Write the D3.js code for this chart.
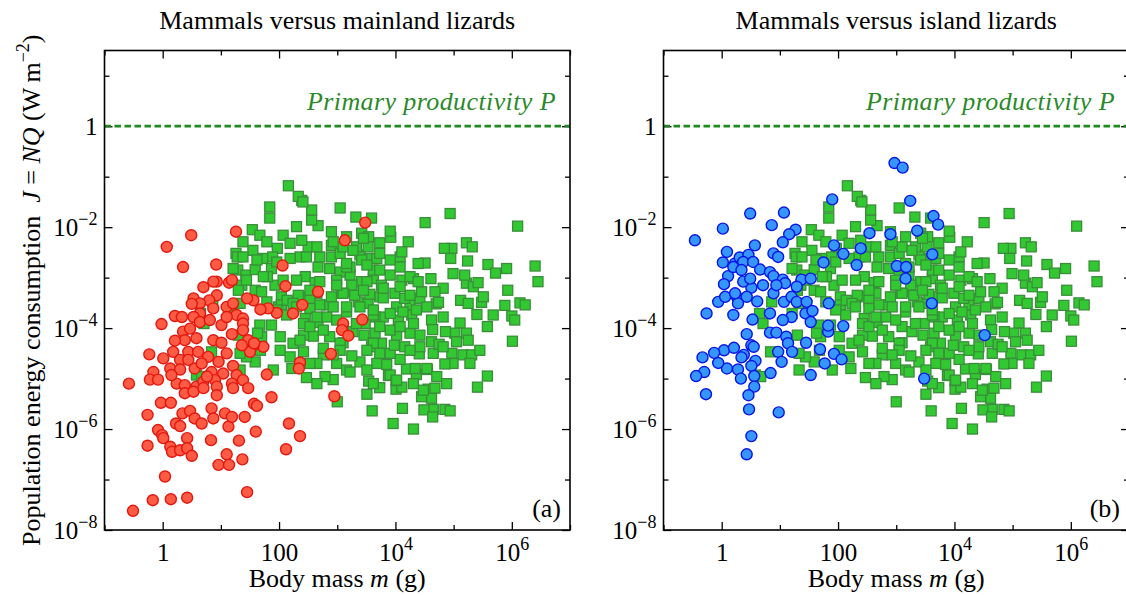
<!DOCTYPE html>
<html>
<head>
<meta charset="utf-8">
<script src="https://cdn.jsdelivr.net/npm/d3@7"></script>
<style>
body { margin: 0; background: #fff; }
svg text { font-family: "Liberation Serif", "Times New Roman", serif; }
</style>
</head>
<body>
<svg id="chart" width="1126" height="595"></svg>
<script>
// values, stored as [log10 body mass (g), log10 J (W m^-2)]
const mammals = [
  [3.05,-1.62],[3.32,-1.80],[3.59,-1.82],[4.51,-1.91],[4.94,-1.73],[6.10,-1.98],[6.40,-2.77],[6.45,-3.08],[5.59,-2.74],[5.91,-2.82],
  [5.72,-2.91],[5.93,-3.25],[6.14,-3.50],[6.23,-3.54],[5.88,-3.55],[6.00,-3.76],[6.05,-3.84],[5.68,-3.74],[5.58,-3.97],[6.01,-4.26],
  [5.58,-4.95],[5.41,-5.17],[5.22,-2.31],[5.32,-2.39],[4.97,-2.42],[4.84,-2.42],[4.95,-2.62],[5.24,-2.67],[4.99,-2.92],[4.51,-2.71],
  [4.39,-2.72],[4.61,-3.02],[5.12,-3.45],[5.22,-3.11],[5.34,-3.18],[5.48,-3.49],[5.40,-3.73],[5.11,-3.90],[5.22,-4.10],[5.25,-4.24],
  [5.02,-4.10],[4.86,-4.07],[4.97,-4.50],[5.16,-4.53],[5.31,-4.53],[5.28,-4.70],[4.99,-4.70],[4.85,-4.71],[4.65,-4.50],[4.62,-4.27],
  [4.42,-4.14],[4.62,-3.84],[4.82,-3.78],[4.70,-3.52],[4.82,-3.21],[4.74,-3.49],[4.41,-4.51],[4.55,-4.82],[4.56,-5.21],[4.62,-5.39],
  [4.65,-5.61],[4.85,-5.61],[4.94,-5.64],[4.49,-5.62],[4.31,-6.00],[3.96,-5.89],[4.12,-5.59],[3.60,-5.64],[3.51,-5.31],[3.73,-5.18],
  [3.54,-5.05],[4.01,-5.21],[4.11,-5.17],[3.88,-4.94],[4.36,-4.92],[4.19,-4.81],[4.34,-4.80],[4.54,-4.80],[3.68,-4.70],[3.85,-4.72],
  [4.08,-4.62],[3.91,-4.50],[3.39,-4.67],[3.25,-4.55],[3.59,-4.37],[3.76,-4.30],[4.16,-4.37],[3.98,-4.34],[4.25,-4.10],[4.02,-4.14],
  [3.65,-4.10],[3.46,-4.14],[3.10,-4.29],[2.99,-4.70],[2.93,-5.02],[2.79,-4.96],[2.65,-5.10],[2.47,-4.98],[3.00,-5.46],[2.76,-4.53],
  [2.42,-4.47],[2.59,-4.16],[2.42,-4.14],[2.87,-4.17],[2.67,-3.89],[2.45,-3.81],[2.82,-3.78],[2.82,-3.54],[3.16,-3.68],[3.36,-3.48],
  [3.53,-3.51],[3.73,-3.38],[4.02,-3.58],[4.25,-3.54],[4.42,-3.41],[4.28,-3.74],[4.05,-3.84],[3.79,-3.78],[3.65,-3.78],[3.48,-3.91],
  [3.91,-4.04],[3.08,-3.31],[2.90,-3.38],[2.65,-3.31],[2.45,-3.38],[3.25,-3.28],[3.56,-3.33],[3.79,-3.40],[3.99,-3.31],[4.16,-3.41],
  [4.31,-3.02],[4.11,-3.05],[3.91,-2.95],[3.62,-3.02],[3.42,-3.08],[3.22,-2.95],[3.05,-2.89],[2.87,-2.82],[2.67,-2.79],[2.45,-2.98],
  [2.50,-2.39],[2.70,-2.59],[2.90,-2.59],[2.90,-2.36],[3.22,-2.79],[3.39,-2.55],[3.56,-2.62],[3.73,-2.31],[3.92,-2.20],[3.91,-2.08],
  [4.08,-2.59],[4.22,-2.29],[3.42,-2.12],[3.54,-2.19],[2.90,-2.09],[2.67,-1.97],[2.56,-1.86],[2.56,-1.66],[2.39,-1.47],[2.39,-2.26],
  [3.68,-2.62],[3.33,-2.39],[3.53,-2.39],
  [2.16,-1.18],[2.33,-1.39],[2.41,-1.50],[1.84,-1.60],[1.84,-1.82],[2.30,-1.99],[1.54,-2.05],[1.67,-2.16],[1.38,-2.29],[1.26,-2.52],
  [1.55,-2.46],[1.79,-2.29],[2.07,-2.16],[2.19,-2.32],[1.97,-2.42],[1.72,-2.62],[1.89,-2.59],[2.36,-2.59],[3.16,-2.79],[3.42,-2.65],
  [3.62,-2.85],[3.73,-2.52],[1.29,-2.85],[1.43,-2.95],[1.59,-2.84],[1.87,-2.82],[2.30,-3.05],[2.62,-3.10],[2.99,-3.05],[3.25,-3.15],
  [3.51,-3.08],[1.36,-3.15],[1.59,-3.25],[1.70,-3.28],[1.93,-3.15],[2.04,-3.38],[2.33,-3.35],[2.53,-3.45],[3.10,-3.31],[3.30,-3.35],
  [3.76,-3.15],[2.70,-3.54],[1.99,-3.58],[2.04,-3.54],[2.13,-3.74],[2.53,-3.61],[3.62,-3.74],[1.67,-3.94],[1.87,-3.94],[2.42,-3.91],
  [2.24,-4.30],[2.02,-4.44],[2.76,-4.40],[3.05,-4.30],[3.62,-4.30],[1.70,-4.17],[1.59,-4.67],[1.90,-4.83],[2.22,-4.80],[1.44,-4.57],
  [1.33,-4.50],[4.11,-2.49],[5.19,-2.95],[5.42,-3.10],[4.68,-3.28],[4.45,-3.28],[4.25,-3.35],[4.08,-3.18],[4.64,-4.03],[4.75,-4.32],
  [5.05,-4.27],[3.91,-4.93],[4.01,-5.04],[4.68,-5.19],[4.45,-5.36],[4.64,-5.76],
  [1.21,-2.82],[1.30,-3.25],[1.33,-3.51],[1.21,-3.71],[1.30,-4.14],[1.33,-4.83],[0.58,-4.93],[0.65,-3.71],[0.71,-3.91],[0.84,-4.47],
  [0.67,-4.96],[0.86,-3.48],[1.28,-2.59],[1.80,-2.98],[2.14,-3.45],[1.63,-4.10],[1.68,-4.44],
  [2.47,-2.59],[3.05,-2.52],[3.16,-2.72],[3.51,-2.75],[3.73,-2.85],[3.91,-2.65],[4.08,-2.79],[4.25,-2.98],[4.39,-3.08],[3.79,-3.21],
  [3.45,-3.25],[2.99,-3.15],[2.70,-3.08],[2.53,-3.25],[2.93,-3.58],[3.62,-3.64],[3.91,-3.71],[4.13,-3.68],[4.36,-3.64],[4.54,-3.58],
  [2.53,-3.97],[2.76,-4.04],[3.10,-3.97],[3.27,-4.07],[3.73,-3.97],[4.08,-3.97],[4.31,-3.91],[4.42,-4.37],[4.25,-4.44],[3.73,-4.50],
  [3.51,-4.44],[3.05,-4.44],[2.65,-4.70],[3.16,-4.83],[3.51,-4.83],[4.02,-5.03],[3.62,-5.10],[4.31,-5.10],[4.48,-5.23],
  [1.38,-2.59],[1.62,-2.65],[1.96,-2.69],[2.19,-2.62],[1.44,-3.05],[1.73,-2.98],[2.07,-3.05],[1.79,-3.48],[2.24,-3.51],[3.16,-3.58],
  [3.39,-3.58],[3.10,-2.39],[3.27,-2.46],[3.45,-2.22],[2.65,-2.39],[3.16,-2.19],[2.93,-2.29],
  [1.96,-3.64],[2.30,-3.58],[2.65,-3.78],[2.99,-3.84],[3.33,-3.91],[2.02,-4.17],[2.36,-4.24],[2.93,-4.53],[2.19,-4.57],[2.53,-4.70],
  [3.22,-4.87],[5.51,-3.38],[5.25,-3.51],[4.82,-4.37],[5.45,-4.44],[4.71,-4.96],[4.88,-5.10]
];

const mainlandLizards = [
  [3.48,-1.91],[3.13,-2.26],[1.26,-2.09],[0.49,-2.16],[0.07,-2.39],[0.35,-2.79],[0.92,-2.74],[2.06,-2.76],[2.11,-3.17],[2.67,-3.28],
  [2.40,-3.54],[2.24,-3.71],[1.96,-3.70],[1.81,-3.61],[1.68,-3.63],[1.56,-3.45],[1.45,-3.41],[3.43,-3.83],[3.10,-3.91],[3.08,-4.04],
  [3.19,-4.15],[2.89,-4.51],[2.36,-4.68],[2.34,-4.80],[1.79,-4.92],[1.73,-4.37],[1.56,-4.34],[1.50,-4.47],[1.14,-3.10],[1.19,-3.05],
  [0.93,-3.08],[0.87,-3.08],[0.70,-3.19],[0.53,-3.41],[0.93,-3.35],[0.80,-3.45],[0.64,-3.51],[0.50,-3.52],[0.87,-3.61],[1.10,-3.58],
  [1.21,-3.51],[1.27,-3.74],[1.38,-3.81],[0.64,-3.71],[0.53,-3.78],[0.21,-3.76],[0.33,-3.78],[-0.02,-3.92],[0.35,-4.07],[0.47,-4.01],
  [0.64,-3.88],[0.81,-3.84],[1.01,-3.94],[1.10,-3.78],[1.38,-3.91],[1.38,-4.04],[0.58,-4.20],[0.38,-4.24],[0.21,-4.25],[0.87,-4.24],
  [1.01,-4.29],[1.19,-4.12],[1.47,-4.24],[1.57,-4.30],[0.18,-4.47],[0.44,-4.47],[0.61,-4.47],[0.78,-4.57],[0.96,-4.67],[-0.23,-4.52],
  [0.01,-4.60],[0.30,-4.63],[0.13,-4.80],[-0.16,-4.87],[-0.22,-5.02],[-0.08,-5.02],[0.30,-4.82],[0.55,-4.80],[0.84,-4.87],[1.04,-4.90],
  [1.21,-4.75],[1.27,-4.93],[1.38,-5.03],[1.47,-5.19],[-0.58,-5.10],[0.24,-5.10],[0.38,-5.13],[0.58,-5.16],[0.70,-5.06],[0.90,-5.03],
  [0.93,-5.16],[1.19,-5.10],[1.87,-5.37],[2.95,-5.35],[-0.26,-5.72],[-0.03,-5.48],[0.14,-5.48],[-0.08,-6.02],[-0.01,-6.12],[0.01,-6.18],
  [0.13,-6.35],[0.16,-6.45],[0.30,-6.42],[0.42,-6.18],[0.42,-6.38],[0.50,-6.53],[-0.26,-6.33],[0.23,-5.89],[0.30,-5.94],[0.34,-5.69],
  [0.47,-5.64],[0.55,-5.79],[0.67,-5.89],[0.84,-5.59],[0.87,-5.79],[0.93,-5.33],[1.07,-5.69],[1.13,-5.95],[1.19,-5.76],[1.41,-5.76],
  [1.57,-5.50],[1.62,-5.54],[1.60,-6.05],[0.83,-6.22],[1.31,-6.23],[1.10,-6.50],[0.96,-6.71],[1.14,-6.71],[1.37,-6.60],[0.04,-6.94],
  [-0.17,-7.41],[0.14,-7.39],[0.42,-7.36],[-0.51,-7.62],[1.45,-7.25],[2.17,-5.89],[2.12,-6.40],[2.36,-6.14],[0.38,-5.29],[0.53,-5.26],
  [0.70,-5.19],[1.21,-5.19],[1.36,-4.34],[1.10,-4.50],[0.67,-4.70],[0.44,-4.63],[0.15,-4.93],[0.76,-4.96]
];

const islandLizards = [
  [2.97,-0.73],[3.11,-0.82],[3.24,-1.48],[1.90,-1.45],[0.49,-1.73],[1.07,-1.71],[0.02,-2.03],[-0.46,-2.26],[0.86,-1.96],[1.27,-2.05],
  [1.16,-2.14],[1.05,-2.30],[0.57,-2.36],[0.09,-2.49],[0.89,-2.52],[0.97,-2.59],[3.64,-1.78],[3.72,-1.95],[3.36,-2.07],[2.54,-2.12],
  [2.90,-2.14],[1.93,-2.36],[2.09,-2.53],[2.39,-2.42],[1.75,-2.70],[2.32,-2.75],[3.01,-2.77],[3.17,-2.79],[3.16,-3.02],[3.62,-2.54],
  [0.02,-2.70],[0.23,-2.72],[0.31,-2.60],[0.46,-2.55],[0.37,-2.69],[0.54,-2.69],[0.66,-2.84],[0.83,-2.89],[0.89,-2.97],[1.05,-3.04],
  [1.37,-3.04],[1.53,-3.02],[1.29,-3.18],[1.09,-3.11],[0.71,-3.15],[0.51,-3.20],[0.37,-3.08],[0.11,-2.97],[0.04,-3.13],[0.20,-2.79],
  [0.34,-2.85],[0.89,-3.31],[-0.26,-3.71],[-0.06,-3.48],[0.49,-3.02],[0.26,-3.38],[0.43,-3.38],[0.28,-3.51],[0.20,-3.74],[0.61,-3.47],
  [0.53,-3.83],[0.94,-3.15],[1.07,-3.48],[1.20,-3.38],[1.29,-3.48],[1.46,-3.48],[1.44,-3.71],[1.56,-3.66],[1.53,-3.88],[1.20,-3.78],
  [1.05,-3.84],[0.83,-3.71],[0.83,-4.09],[0.94,-4.09],[1.11,-4.17],[1.14,-4.30],[1.21,-4.47],[0.97,-4.47],[1.03,-4.67],[1.45,-4.29],
  [1.53,-4.93],[0.84,-4.89],[0.43,-4.12],[0.51,-4.34],[0.55,-4.37],[0.38,-4.53],[0.34,-4.58],[0.58,-4.65],[0.51,-4.75],[0.56,-4.95],
  [0.56,-5.16],[0.46,-5.33],[0.47,-5.61],[0.98,-5.67],[0.51,-6.14],[0.43,-6.50],[0.28,-4.82],[0.33,-5.00],[0.09,-4.80],[-0.06,-4.69],
  [0.04,-4.44],[0.21,-4.39],[-0.13,-4.49],[-0.33,-4.58],[-0.30,-4.87],[-0.44,-4.95],[-0.27,-5.31],[1.69,-4.42],[1.77,-4.70],[1.93,-4.51],
  [2.06,-4.62],[2.09,-3.96],[1.83,-4.07],[1.83,-3.95],[1.84,-3.51],[3.61,-3.51],[4.52,-4.14],[3.48,-5.00],[0.06,-3.38],[0.23,-3.31]
];

const panelTitles = ["Mammals versus mainland lizards", "Mammals versus island lizards"];
const panelTags = ["(a)", "(b)"];
const xTickExps = [-1, 0, 1, 2, 3, 4, 5, 6, 7];
const xLabelExps = [0, 2, 4, 6];
const yTickExps = [-8, -7, -6, -5, -4, -3, -2, -1, 0, 1];
const yLabelExps = [0, -2, -4, -6, -8];
const primaryProductivity = 1; // W m^-2

const svg = d3.select("#chart");
const panelW = 465.5, panelH = 479.5, panelTop = 50.5;
const lefts = [104.5, 663.5];

const x = d3.scaleLog().domain([0.1, 1e7]).range([0, panelW]);
const y = d3.scaleLog().domain([1e-8, Math.pow(10, 1.5)]).range([panelH, 0]);

const pow10 = v => Math.pow(10, v);

function setExpLabel(text, e, plainHundred) {
  text.text(null);
  if (e === 0) { text.text("1"); return; }
  if (e === 2 && plainHundred) { text.text("100"); return; }
  text.append("tspan").text("10");
  text.append("tspan").attr("dy", -11).attr("font-size", 18)
    .text(e < 0 ? "\u2212" + (-e) : String(e));
}

// decade ticks pointing inward; labelled decades get the longer tick
function decadeAxis(axisFn, scale, exps, labelExps, labels, pad, isX) {
  return g => {
    g.call(axisFn(scale).tickValues(exps.map(pow10)).tickSize(-8).tickSizeOuter(0)
      .tickPadding(pad).tickFormat(() => ""));
    g.select(".domain").remove();
    g.attr("font-size", 25).attr("font-family", null);
    g.selectAll(".tick line").attr("stroke", "#000").attr("stroke-width", 1.3);
    g.selectAll(".tick").each(function(d) {
      const e = Math.round(Math.log10(d));
      const major = labelExps.includes(e);
      const line = d3.select(this).select("line");
      ["x2", "y2"].forEach(a => {
        const v = +line.attr(a);
        if (v) line.attr(a, major ? v : v * 5 / 8);
      });
      if (labels && major) setExpLabel(d3.select(this).select("text").attr("fill", "#000"), e, isX);
    });
  };
}

function drawPanel(i, lizards, fill, stroke) {
  const g = svg.append("g").attr("transform", `translate(${lefts[i]},${panelTop})`);

  g.append("g").attr("transform", `translate(0,${panelH})`)
    .call(decadeAxis(d3.axisBottom, x, xTickExps, xLabelExps, true, 13, true));
  g.append("g").call(decadeAxis(d3.axisTop, x, xTickExps, xLabelExps, false, 0, true));
  g.append("g").call(decadeAxis(d3.axisLeft, y, yTickExps, yLabelExps, true, 7, false));
  g.append("g").attr("transform", `translate(${panelW},0)`)
    .call(decadeAxis(d3.axisRight, y, yTickExps, yLabelExps, false, 0, false));

  g.append("line")
    .attr("x1", 0).attr("x2", panelW)
    .attr("y1", y(primaryProductivity)).attr("y2", y(primaryProductivity))
    .attr("stroke", "#1f8a1f").attr("stroke-width", 2.8).attr("stroke-dasharray", "6.5,3.5");

  g.append("text")
    .attr("x", panelW - 14).attr("y", y(primaryProductivity) - 16)
    .attr("text-anchor", "end").attr("font-size", 26).attr("font-style", "italic")
    .attr("fill", "#2a8a2a").attr("letter-spacing", 0.4)
    .text("Primary productivity P");

  g.append("g").selectAll("rect").data(mammals).join("rect")
    .attr("x", d => x(pow10(d[0])) - 5).attr("y", d => y(pow10(d[1])) - 5)
    .attr("width", 10).attr("height", 10)
    .attr("fill", "#32c832").attr("stroke", "#3a8e3a").attr("stroke-width", 1.3);

  g.append("g").selectAll("circle").data(lizards).join("circle")
    .attr("cx", d => x(pow10(d[0]))).attr("cy", d => y(pow10(d[1])))
    .attr("r", 5.5)
    .attr("fill", fill).attr("stroke", stroke).attr("stroke-width", 1.4);

  g.append("rect").attr("width", panelW).attr("height", panelH)
    .attr("fill", "none").attr("stroke", "#000").attr("stroke-width", 1.6);

  g.append("text").attr("x", panelW / 2).attr("y", 29 - panelTop)
    .attr("text-anchor", "middle").attr("font-size", 26).attr("fill", "#000")
    .text(panelTitles[i]);

  g.append("text").attr("x", panelW - 9).attr("y", 516.5 - panelTop)
    .attr("text-anchor", "end").attr("font-size", 26).attr("fill", "#000")
    .text(panelTags[i]);

  const xt = g.append("text").attr("x", panelW / 2).attr("y", 587 - panelTop)
    .attr("text-anchor", "middle").attr("font-size", 26).attr("fill", "#000");
  xt.append("tspan").text("Body mass ");
  xt.append("tspan").attr("font-style", "italic").text("m");
  xt.append("tspan").text(" (g)");
}

drawPanel(0, mainlandLizards, "#ff5a43", "#e3170f");
drawPanel(1, islandLizards, "#3596ff", "#0a14e6");

const yt = svg.append("text")
  .attr("transform", `translate(40,${panelTop + panelH / 2}) rotate(-90)`)
  .attr("text-anchor", "middle").attr("font-size", 26).attr("fill", "#000");
yt.append("tspan").text("Population energy consumption\u00a0\u00a0");
yt.append("tspan").attr("font-style", "italic").text("J");
yt.append("tspan").text(" = ");
yt.append("tspan").attr("font-style", "italic").text("NQ");
yt.append("tspan").text(" (W\u2009m");
yt.append("tspan").attr("dy", -11).attr("font-size", 18).text("\u22122");
yt.append("tspan").attr("dy", 11).text(")");
</script>
</body>
</html>
